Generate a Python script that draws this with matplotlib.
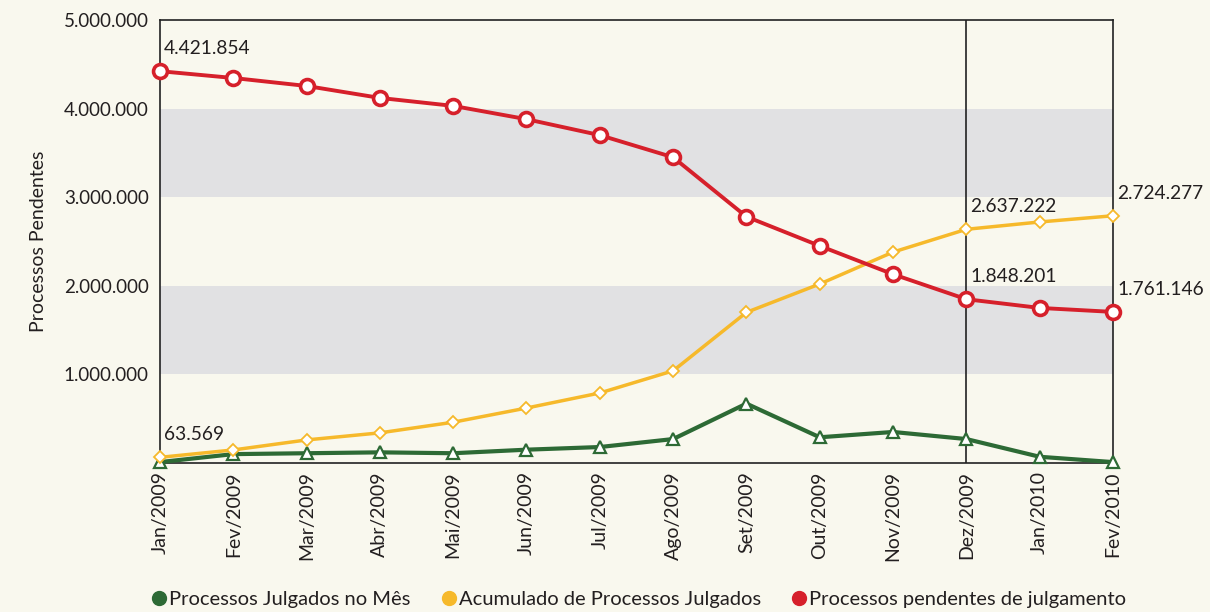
import matplotlib.pyplot as plt
from matplotlib.lines import Line2D
from matplotlib.ticker import FuncFormatter

plt.rcParams['font.family'] = ['Lato', 'DejaVu Sans']

meses = ['Jan/2009', 'Fev/2009', 'Mar/2009', 'Abr/2009', 'Mai/2009', 'Jun/2009',
         'Jul/2009', 'Ago/2009', 'Set/2009', 'Out/2009', 'Nov/2009', 'Dez/2009',
         'Jan/2010', 'Fev/2010']

julgados_mes = [10000, 100000, 110000, 120000, 110000, 150000, 180000, 270000,
                670000, 290000, 350000, 270000, 70000, 10000]
acumulado = [63569, 147000, 260000, 340000, 460000, 620000, 790000, 1040000,
             1700000, 2020000, 2380000, 2637222, 2720000, 2790000]
pendentes = [4421854, 4345000, 4255000, 4120000, 4030000, 3880000, 3700000,
             3450000, 2780000, 2450000, 2130000, 1848201, 1750000, 1705000]

# (serie, indice do mes, texto)
rotulos = [('pend', 0, '4.421.854'), ('acum', 0, '63.569'),
           ('acum', 11, '2.637.222'), ('pend', 11, '1.848.201'),
           ('acum', 13, '2.724.277'), ('pend', 13, '1.761.146')]

verde = '#2d6a35'
amarelo = '#f6b92b'
vermelho = '#d6202b'
fundo = '#f9f8ee'

fig = plt.figure(figsize=(12.1, 6.12), dpi=100, facecolor=fundo)
ax = fig.add_axes([0.1322, 0.2435, 0.7876, 0.7239], facecolor=fundo)

ax.axhspan(1000000, 2000000, color='#e1e1e3', lw=0, zorder=0)
ax.axhspan(3000000, 4000000, color='#e1e1e3', lw=0, zorder=0)
ax.axvline(11, color='#222222', lw=1.2, zorder=1)

x = range(len(meses))
ax.plot(x, julgados_mes, color=verde, lw=3, marker='^', ms=8, mfc='white',
        mec=verde, mew=1.6, clip_on=False, zorder=3)
ax.plot(x, acumulado, color=amarelo, lw=2.5, marker='D', ms=6, mfc='white',
        mec=amarelo, mew=1.3, clip_on=False, zorder=3)
ax.plot(x, pendentes, color=vermelho, lw=2.8, marker='o', ms=10, mfc='white',
        mec=vermelho, mew=2.6, clip_on=False, zorder=4)

series = {'pend': pendentes, 'acum': acumulado}
for s, i, txt in rotulos:
    ax.annotate(txt, (i, series[s][i]), xytext=(3, 10), textcoords='offset points',
                fontsize=13.8, color='#231f20', ha='left', va='bottom')

ax.set_xlim(0, 13)
ax.set_ylim(0, 5000000)
ax.set_xticks(list(x))
ax.set_xticklabels(meses, rotation=90, fontsize=14, color='#231f20')
ax.set_yticks([1000000, 2000000, 3000000, 4000000, 5000000])
ax.yaxis.set_major_formatter(FuncFormatter(lambda v, p: f'{int(v):,}'.replace(',', '.')))
ax.tick_params(axis='y', labelsize=13.5, labelcolor='#231f20', length=0, pad=8)
ax.tick_params(axis='x', length=0, pad=6)
for sp in ax.spines.values():
    sp.set_color('#222222')
    sp.set_linewidth(1.2)
ax.set_ylabel('Processos Pendentes', fontsize=14, color='#231f20', labelpad=12)

handles = [Line2D([], [], ls='none', marker='o', ms=10, color=c) for c in (verde, amarelo, vermelho)]
fig.legend(handles, ['Processos Julgados no Mês', 'Acumulado de Processos Julgados',
                     'Processos pendentes de julgamento'],
           loc='center', bbox_to_anchor=(0.527, 0.02), ncol=3, frameon=False,
           fontsize=14.5, handletextpad=0.0, columnspacing=1.4, handlelength=1.0,
           labelcolor='#231f20')

fig.savefig('out.png', dpi=100, facecolor=fundo)
